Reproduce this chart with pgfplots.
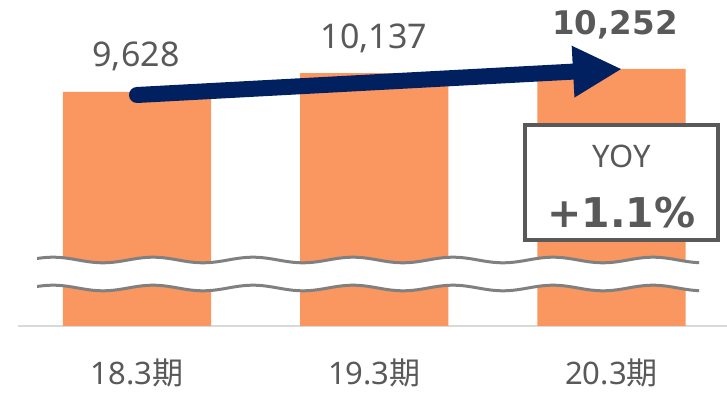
\documentclass[border=0pt]{standalone}
\usepackage{pgfplots}
\pgfplotsset{compat=1.18}
\usepackage{fontspec}
\setmainfont{Noto Sans}
\newfontfamily\cjk{Noto Sans CJK JP}
\newfontfamily\dejavu{DejaVu Sans}
\usetikzlibrary{arrows.meta}
\definecolor{barorange}{RGB}{250,150,95}
\definecolor{navy}{RGB}{0,32,96}
\definecolor{txtgray}{RGB}{89,89,89}
\definecolor{wavegray}{RGB}{128,128,128}
\definecolor{axisgray}{RGB}{217,217,217}
\begin{document}
\begin{tikzpicture}[x=1pt,y=1pt]
\useasboundingbox (0,0) rectangle (727,393);
\begin{axis}[
  at={(18pt,67pt)}, anchor=south west, scale only axis,
  width=709pt, height=326pt,
  xmin=-0.5016, xmax=2.4868, ymin=3268, ymax=12127,
  axis x line=bottom, axis y line=none,
  x axis line style={-, draw=axisgray, line width=2pt},
  xtick={0,1,2},
  xticklabels={18.3{\cjk 期}, 19.3{\cjk 期}, 20.3{\cjk 期}},
  major tick length=0pt,
  xticklabel style={anchor=base, yshift=-58pt, text=txtgray, font=\fontsize{31}{36}\selectfont},
  ybar, bar width=0.624,
]
\addplot[fill=barorange, draw=none] coordinates {(0,9628) (1,10137) (2,10252)};
\end{axis}
% broken-axis band
\begin{scope}
\clip (37,0) rectangle (699,393);
\draw[white, line width=28pt] (28,119) \foreach \i in {0,...,6} {
  sin ({53+100*\i},121.8) cos ({78+100*\i},119) sin ({103+100*\i},116.2) cos ({128+100*\i},119) };
\draw[wavegray, line width=3pt] (28,133) \foreach \i in {0,...,6} {
  sin ({53+100*\i},135.8) cos ({78+100*\i},133) sin ({103+100*\i},130.2) cos ({128+100*\i},133) };
\draw[wavegray, line width=3pt] (28,105) \foreach \i in {0,...,6} {
  sin ({53+100*\i},107.8) cos ({78+100*\i},105) sin ({103+100*\i},102.2) cos ({128+100*\i},105) };
\end{scope}
% arrow
\draw[navy, line width=16pt, line cap=round, -{Triangle[length=49pt, width=48pt]}] (137,298) -- (622,324);
% value labels
\node[anchor=base, text=txtgray, font=\fontsize{34}{40}\selectfont, inner sep=0pt] at (136,326) {9,628};
\node[anchor=base, text=txtgray, font=\fontsize{34}{40}\selectfont, inner sep=0pt] at (374,344) {10,137};
\node[anchor=base, text=txtgray, font=\dejavu\bfseries\fontsize{32.5}{38}\selectfont, inner sep=0pt] at (615,358) {10,252};
% YOY box
\draw[txtgray, line width=4pt, fill=white] (525,153) rectangle (718,268);
\node[anchor=base, text=txtgray, font=\fontsize{31}{36}\selectfont, inner sep=0pt] at (621.5,225) {YOY};
\node[anchor=base, text=txtgray, font=\dejavu\bfseries\fontsize{41}{48}\selectfont, inner sep=0pt] at (621.5,165) {+1.1\%};
\end{tikzpicture}
\end{document}
